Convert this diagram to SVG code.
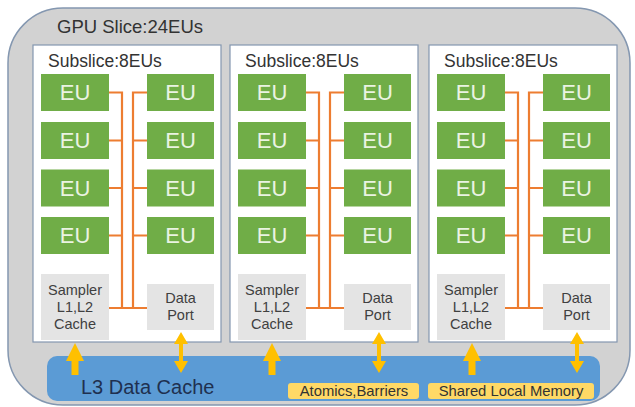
<svg xmlns="http://www.w3.org/2000/svg" width="635" height="407" viewBox="0 0 635 407">
<defs>
<style>
text{font-family:"Liberation Sans","Noto Sans",Arial,sans-serif}
.sub{fill:#ffffff;stroke:#8497b0;stroke-width:1.2}
.eu{fill:#70ad47}
.eut{fill:#eaf3e2;font-size:22px;text-anchor:middle}
.gbox{fill:#e4e4e4}
.gt{fill:#404040;font-size:14.5px;text-anchor:middle}
.ttl{fill:#333333;font-size:17.5px}
.bus{fill:none;stroke:#ed7d31;stroke-width:2.2}
.arr{fill:#ffc000}
.yl{fill:#ffd966}
.yt{fill:#333333;font-size:14.8px;text-anchor:middle}
</style>
</defs>
<g id="gpu-slice">
<rect x="8" y="8" width="622" height="397" rx="55" fill="#d2d2d2" stroke="#8497b0" stroke-width="1.5"/>
<text x="57" y="33" fill="#333333" font-size="18.5px">GPU Slice:24EUs</text>
</g>
<g id="l3-cache">
<rect x="47" y="356" width="553" height="45" rx="10" fill="#5b9bd5"/>
<text x="81" y="394" fill="#1f3050" font-size="20px">L3 Data Cache</text>
</g>
<g id="atomics">
<rect class="yl" x="288" y="383" width="131" height="16" rx="3"/>
<text class="yt" x="354" y="396">Atomics,Barriers</text>
</g>
<g id="slm">
<rect class="yl" x="428" y="383" width="166" height="16" rx="3"/>
<text class="yt" x="511" y="396">Shared Local Memory</text>
</g>
<g id="subslice1" transform="translate(33,0)">
<rect class="sub" x="0" y="45" width="188" height="297"/>
<text class="ttl" x="15" y="67">Subslice:8EUs</text>
<rect class="eu" x="8" y="74" width="68" height="37"/><text class="eut" x="42" y="100">EU</text>
<rect class="eu" x="8" y="122" width="68" height="37"/><text class="eut" x="42" y="148">EU</text>
<rect class="eu" x="8" y="169.5" width="68" height="37"/><text class="eut" x="42" y="195.5">EU</text>
<rect class="eu" x="8" y="217" width="68" height="37"/><text class="eut" x="42" y="243">EU</text>
<rect class="eu" x="114" y="74" width="67" height="37"/><text class="eut" x="147.5" y="100">EU</text>
<rect class="eu" x="114" y="122" width="67" height="37"/><text class="eut" x="147.5" y="148">EU</text>
<rect class="eu" x="114" y="169.5" width="67" height="37"/><text class="eut" x="147.5" y="195.5">EU</text>
<rect class="eu" x="114" y="217" width="67" height="37"/><text class="eut" x="147.5" y="243">EU</text>
<rect class="gbox" x="8" y="274" width="68" height="66"/>
<text class="gt" x="42" y="295">Sampler</text><text class="gt" x="42" y="312">L1,L2</text><text class="gt" x="42" y="329">Cache</text>
<rect class="gbox" x="114" y="284" width="67" height="46"/>
<text class="gt" x="147.5" y="303">Data</text><text class="gt" x="147.5" y="320">Port</text>
</g>
<g id="subslice2" transform="translate(230,0)">
<rect class="sub" x="0" y="45" width="188" height="297"/>
<text class="ttl" x="15" y="67">Subslice:8EUs</text>
<rect class="eu" x="8" y="74" width="68" height="37"/><text class="eut" x="42" y="100">EU</text>
<rect class="eu" x="8" y="122" width="68" height="37"/><text class="eut" x="42" y="148">EU</text>
<rect class="eu" x="8" y="169.5" width="68" height="37"/><text class="eut" x="42" y="195.5">EU</text>
<rect class="eu" x="8" y="217" width="68" height="37"/><text class="eut" x="42" y="243">EU</text>
<rect class="eu" x="114" y="74" width="67" height="37"/><text class="eut" x="147.5" y="100">EU</text>
<rect class="eu" x="114" y="122" width="67" height="37"/><text class="eut" x="147.5" y="148">EU</text>
<rect class="eu" x="114" y="169.5" width="67" height="37"/><text class="eut" x="147.5" y="195.5">EU</text>
<rect class="eu" x="114" y="217" width="67" height="37"/><text class="eut" x="147.5" y="243">EU</text>
<rect class="gbox" x="8" y="274" width="68" height="66"/>
<text class="gt" x="42" y="295">Sampler</text><text class="gt" x="42" y="312">L1,L2</text><text class="gt" x="42" y="329">Cache</text>
<rect class="gbox" x="114" y="284" width="67" height="46"/>
<text class="gt" x="147.5" y="303">Data</text><text class="gt" x="147.5" y="320">Port</text>
</g>
<g id="subslice3" transform="translate(429,0)">
<rect class="sub" x="0" y="45" width="188" height="297"/>
<text class="ttl" x="15" y="67">Subslice:8EUs</text>
<rect class="eu" x="8" y="74" width="68" height="37"/><text class="eut" x="42" y="100">EU</text>
<rect class="eu" x="8" y="122" width="68" height="37"/><text class="eut" x="42" y="148">EU</text>
<rect class="eu" x="8" y="169.5" width="68" height="37"/><text class="eut" x="42" y="195.5">EU</text>
<rect class="eu" x="8" y="217" width="68" height="37"/><text class="eut" x="42" y="243">EU</text>
<rect class="eu" x="114" y="74" width="67" height="37"/><text class="eut" x="147.5" y="100">EU</text>
<rect class="eu" x="114" y="122" width="67" height="37"/><text class="eut" x="147.5" y="148">EU</text>
<rect class="eu" x="114" y="169.5" width="67" height="37"/><text class="eut" x="147.5" y="195.5">EU</text>
<rect class="eu" x="114" y="217" width="67" height="37"/><text class="eut" x="147.5" y="243">EU</text>
<rect class="gbox" x="8" y="274" width="68" height="66"/>
<text class="gt" x="42" y="295">Sampler</text><text class="gt" x="42" y="312">L1,L2</text><text class="gt" x="42" y="329">Cache</text>
<rect class="gbox" x="114" y="284" width="67" height="46"/>
<text class="gt" x="147.5" y="303">Data</text><text class="gt" x="147.5" y="320">Port</text>
</g>
<g id="connectors">
<g id="bus1" transform="translate(33,0)">
<path class="bus" d="M76 92.5H89V308M76 140.5H89M76 188H89M76 235.5H89M114 92.5H100V308M114 140.5H100M114 188H100M114 235.5H100M76 308H114"/>
</g>
<g id="bus2" transform="translate(230,0)">
<path class="bus" d="M76 92.5H89V308M76 140.5H89M76 188H89M76 235.5H89M114 92.5H100V308M114 140.5H100M114 188H100M114 235.5H100M76 308H114"/>
</g>
<g id="bus3" transform="translate(429,0)">
<path class="bus" d="M76 92.5H89V308M76 140.5H89M76 188H89M76 235.5H89M114 92.5H100V308M114 140.5H100M114 188H100M114 235.5H100M76 308H114"/>
</g>
<g id="arrows">
<path class="arr" d="M75 343L84 361H78.5V375H71.5V361H66Z"/>
<path class="arr" d="M181 332L188 344H183V361H188L181 373L174 361H179V344H174Z"/>
<path class="arr" d="M272 343L281 361H275.5V375H268.5V361H263Z"/>
<path class="arr" d="M379 332L386 344H381V361H386L379 373L372 361H377V344H372Z"/>
<path class="arr" d="M472 343L481 361H475.5V375H468.5V361H463Z"/>
<path class="arr" d="M577 332L584 344H579V361H584L577 373L570 361H575V344H570Z"/>
</g>
</g>
</svg>
